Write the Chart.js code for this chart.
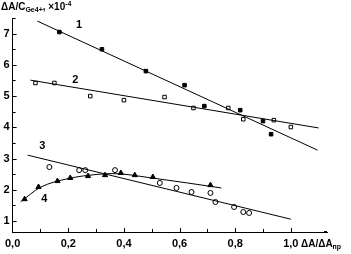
<!DOCTYPE html>
<html lang="en">
<head>
    <meta charset="UTF-8">
    <title>ΔA/C vs ΔA/ΔA</title>
    <script src="https://cdn.jsdelivr.net/npm/chart.js"></script>
    <style>
        body {
            margin: 0;
            background: #fff;
        }
        canvas {
            display: block;
        }
    </style>
</head>
<body>
    <canvas id="chart" width="351" height="254"></canvas>

    <script>
        // Series 1 (filled squares)
        const x1 = [0.168, 0.321, 0.479, 0.618, 0.689, 0.818, 0.900, 0.929];
        const y1 = [7.05, 6.50, 5.80, 5.35, 4.68, 4.55, 4.20, 3.78];
        const fitX1 = [0.089, 1.096];
        const fitY1 = [7.40, 3.27];

        // Series 2 (open squares)
        const x2 = [0.082, 0.150, 0.279, 0.400, 0.546, 0.650, 0.775, 0.829, 0.939, 1.000];
        const y2 = [5.42, 5.42, 5.00, 4.87, 4.97, 4.62, 4.62, 4.26, 4.23, 4.01];
        const fitX2 = [0.064, 1.100];
        const fitY2 = [5.51, 3.98];

        // Series 3 (open circles)
        const x3 = [0.132, 0.239, 0.261, 0.368, 0.529, 0.589, 0.643, 0.711, 0.729, 0.796, 0.829, 0.850];
        const y3 = [2.73, 2.63, 2.63, 2.63, 2.22, 2.06, 1.93, 1.90, 1.61, 1.45, 1.29, 1.26];
        const fitX3 = [0.054, 1.000];
        const fitY3 = [3.11, 1.06];

        // Series 4 (filled triangles)
        const x4 = [0.043, 0.093, 0.161, 0.207, 0.271, 0.332, 0.389, 0.439, 0.504, 0.711];
        const y4 = [1.70, 2.09, 2.28, 2.38, 2.44, 2.47, 2.54, 2.47, 2.41, 2.15];
        const fitX4 = [0.029, 0.10, 0.20, 0.30, 0.36, 0.50, 0.75];
        const fitY4 = [1.62, 2.08, 2.36, 2.49, 2.52, 2.38, 2.06];

        // curve numbers
        const curveNames = ['1', '2', '3', '4'];
        const nameX = [0.239, 0.225, 0.107, 0.114];
        const nameY = [7.28, 5.51, 3.41, 1.71];

        const xTickLabels = ['0,0', '0,2', '0,4', '0,6', '0,8', '1,0'];
        const yTickLabels = ['1', '2', '3', '4', '5', '6', '7'];

        const pts = (xs, ys) => xs.map((x, i) => ({ x: x, y: ys[i] }));

        const fitLine = (xs, ys, extra) => Object.assign({
            data: pts(xs, ys),
            showLine: true,
            borderColor: '#000',
            borderWidth: 1,
            pointRadius: 0,
            fill: false
        }, extra || {});

        const marks = (xs, ys, style, filled, r) => ({
            data: pts(xs, ys),
            showLine: false,
            pointStyle: style,
            pointRadius: r,
            pointBorderWidth: 1,
            pointBorderColor: '#000',
            pointBackgroundColor: filled ? '#000' : '#fff'
        });

        const FONT = "'Liberation Sans', Arial, sans-serif";

        // inward tick marks, curve numbers and axis titles
        const decor = {
            id: 'decor',
            afterDraw(chart) {
                const ctx = chart.ctx;
                const xs = chart.scales.x;
                const ys = chart.scales.y;
                const a = chart.chartArea;
                ctx.save();
                ctx.strokeStyle = '#000';
                ctx.lineWidth = 1;
                ctx.beginPath();
                for (let i = 1; i <= 10; i++) {
                    const px = Math.round(xs.getPixelForValue(i / 10)) + 0.5;
                    const len = i % 2 === 0 ? 4 : 3;
                    ctx.moveTo(px, a.bottom);
                    ctx.lineTo(px, a.bottom - len);
                }
                for (let i = 2; i <= 15; i++) {
                    const py = Math.round(ys.getPixelForValue(i / 2)) + 0.5;
                    const len = i % 2 === 0 ? 4 : 3;
                    ctx.moveTo(a.left, py);
                    ctx.lineTo(a.left + len, py);
                }
                ctx.stroke();

                // arrow tip on x axis
                ctx.fillStyle = '#000';
                ctx.fillRect(a.right - 3, a.bottom - 1, 3, 2);

                ctx.fillStyle = '#000';
                ctx.textBaseline = 'middle';
                ctx.textAlign = 'center';
                ctx.font = 'bold 11px ' + FONT;
                curveNames.forEach((n, i) => {
                    ctx.fillText(n, xs.getPixelForValue(nameX[i]), ys.getPixelForValue(nameY[i]));
                });

                // y title
                ctx.textAlign = 'left';
                ctx.font = 'bold 10px ' + FONT;
                let x = 1;
                ctx.fillText('ΔA/C', x, 7);
                x += ctx.measureText('ΔA/C').width;
                ctx.font = 'bold 7px ' + FONT;
                ctx.fillText('Ge4+', x, 10);
                x += ctx.measureText('Ge4+').width;
                ctx.font = 'bold 10px ' + FONT;
                ctx.fillText(', ×10', x, 7);
                x += ctx.measureText(', ×10').width;
                ctx.font = 'bold 7px ' + FONT;
                ctx.fillText('-4', x, 4);

                // x title
                ctx.font = 'bold 10px ' + FONT;
                x = 301;
                ctx.fillText('ΔA/ΔA', x, 244);
                x += ctx.measureText('ΔA/ΔA').width;
                ctx.font = 'bold 7px ' + FONT;
                ctx.fillText('пр', x, 247);
                ctx.restore();
            }
        };

        new Chart(document.getElementById('chart'), {
            type: 'scatter',
            data: {
                datasets: [
                    fitLine(fitX1, fitY1),
                    fitLine(fitX2, fitY2),
                    fitLine(fitX3, fitY3),
                    fitLine(fitX4, fitY4, { cubicInterpolationMode: 'monotone' }),
                    marks(x1, y1, 'rect', true, 2.5),
                    marks(x2, y2, 'rect', false, 2.5),
                    marks(x3, y3, 'circle', false, 2.5),
                    marks(x4, y4, 'triangle', true, 3)
                ]
            },
            options: {
                responsive: false,
                animation: false,
                layout: {
                    padding: { top: 18, right: 24, left: 0, bottom: 0 }
                },
                plugins: {
                    legend: { display: false },
                    tooltip: { enabled: false }
                },
                scales: {
                    x: {
                        type: 'linear',
                        min: 0,
                        max: 1.13,
                        grid: { display: false, drawTicks: false, tickLength: 0 },
                        border: { display: true, color: '#000', width: 1 },
                        ticks: {
                            stepSize: 0.1,
                            includeBounds: false,
                            autoSkip: false,
                            maxRotation: 0,
                            padding: 5,
                            color: '#000',
                            font: { family: FONT, size: 11, weight: 'bold' },
                            callback: function(v) {
                                const k = Math.round(v * 10);
                                if (k % 2 !== 0 || k > 10) return '';
                                return xTickLabels[k / 2];
                            }
                        },
                        afterFit: function(scale) { scale.height = 22; }
                    },
                    y: {
                        type: 'linear',
                        min: 0.65,
                        max: 7.5,
                        grid: { display: false, drawTicks: false, tickLength: 0 },
                        border: { display: true, color: '#000', width: 1 },
                        ticks: {
                            stepSize: 0.5,
                            includeBounds: false,
                            autoSkip: false,
                            padding: 3,
                            color: '#000',
                            font: { family: FONT, size: 11, weight: 'bold' },
                            callback: function(v) {
                                const k = Math.round(v * 2);
                                if (k % 2 !== 0) return '';
                                return yTickLabels[k / 2 - 1] || '';
                            }
                        },
                        afterFit: function(scale) { scale.width = 10; }
                    }
                }
            },
            plugins: [decor]
        });
    </script>
</body>
</html>
